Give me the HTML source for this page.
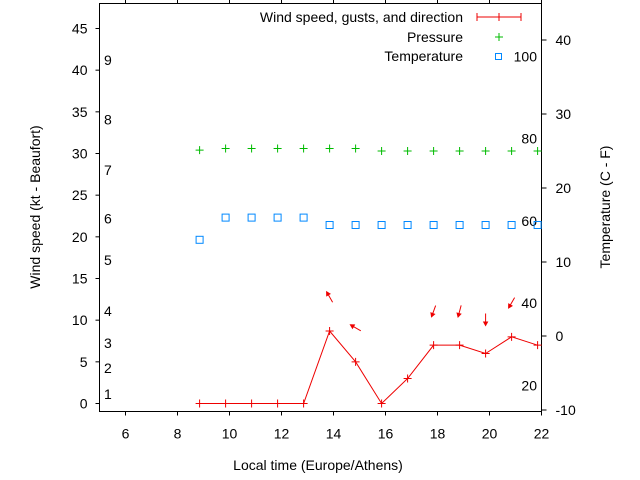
<!DOCTYPE html>
<html><head><meta charset="utf-8"><style>
body{margin:0;background:#fff}
svg{display:block;font-family:"Liberation Sans",sans-serif}
</style></head><body>
<svg id="c" width="640" height="480" viewBox="0 0 640 480"></svg>
<script>
const hours=[8.85,9.85,10.85,11.85,12.85,13.85,14.85,15.85,16.85,17.85,18.85,19.85,20.85,21.85];
const wind=[0,0,0,0,0,8.7,5,0,3,7,7,6,8,7];
const pressure=[30.4,30.6,30.6,30.6,30.6,30.6,30.6,30.3,30.3,30.3,30.3,30.3,30.3,30.3];
const temperature=[13,16,16,16,16,15,15,15,15,15,15,15,15,15];
const arrowHours=[13.85,14.85,17.85,18.85,19.85,20.85];
const arrowDir=[150,120,20,15,0,30];
const xTicks=[6,8,10,12,14,16,18,20,22];
const yTicks=[0,5,10,15,20,25,30,35,40,45];
const y2Ticks=[-10,0,10,20,30,40];
const fahr=[20,40,60,80,100];
const beaufort=[[1,1.14],[2,4.26],[3,7.26],[4,11.1],[5,17.2],[6,22.2],[7,28.0],[8,34.1],[9,41.2]];
const L=99.5,R=541.5,T=3.5,B=411.5;
const X=v=>L+(v-5)/(22-5)*(R-L);
const Y=v=>B-(v+0.96)/48.96*(B-T);
const Y2=v=>336-v*7.4;
const svg=document.getElementById('c');
const NS='http://www.w3.org/2000/svg';
function mk(t,a,p){const e=document.createElementNS(NS,t);for(const k in a)e.setAttribute(k,a[k]);(p||svg).appendChild(e);return e;}
function txt(x,y,s,anchor,name,rot){const e=mk('text',{x:x,y:y,'font-size':14,'text-anchor':anchor||'middle',fill:'#000'});


if(rot)e.setAttribute('transform',rot);e.textContent=s;return e;}
const frame=mk('rect',{x:L,y:T,width:R-L,height:B-T,fill:'none',stroke:'#000'});


xTicks.forEach(v=>{const x=X(v);
const t=mk('path',{d:`M${x},${B}v4M${x},${T}v-4`,stroke:'#000'});


txt(x,B+27,String(v),'middle','x-tick-label');});
yTicks.forEach(v=>{const y=Y(v);
const t=mk('path',{d:`M${L},${y}h-4`,stroke:'#000'});


txt(L-6-6,y+5,String(v),'end','y-tick-label');});
y2Ticks.forEach(v=>{const y=Y2(v);
const t=mk('path',{d:`M${R},${y}h5`,stroke:'#000'});


txt(R+14,y+5,String(v),'start','y2-tick-label');});
beaufort.forEach(b=>txt(104,Y(b[1])+5,String(b[0]),'start','beaufort-label'));
fahr.forEach(f=>txt(537,Y2((f-32)*5/9)+5,String(f),'end','fahrenheit-label'));
txt(318,470,'Local time (Europe/Athens)','middle','x-axis-title');
txt(0,0,'Wind speed (kt - Beaufort)','middle','y-axis-title','translate(40,207) rotate(-90)');
txt(0,0,'Temperature (C - F)','middle','y2-axis-title','translate(610,207) rotate(-90)');
const wl=mk('polyline',{points:hours.map((h,i)=>X(h)+','+Y(wind[i])).join(' '),fill:'none',stroke:'#e00',});


hours.forEach((h,i)=>{const x=X(h),y=Y(wind[i]);
const p=mk('path',{d:`M${x-4},${y}h8M${x},${y-4}v8`,stroke:'#e00'});


const g=mk('path',{d:`M${x-4},${Y(pressure[i])}h8M${x},${Y(pressure[i])-4}v8`,stroke:'#0b0'});


const s=mk('rect',{x:x-3.5,y:Y2(temperature[i])-3.5,width:7,height:7,fill:'none',stroke:'#08f'});

});
arrowHours.forEach((h,i)=>{const i0=hours.indexOf(h);const cx=X(h),cy=Y(wind[i0])-34;
const a=arrowDir[i]*Math.PI/180;const dx=-Math.sin(a)*6,dy=Math.cos(a)*6;
const x1=cx-dx,y1=cy-dy,x2=cx+dx,y2=cy+dy;
const ang=Math.atan2(y2-y1,x2-x1);
const hx1=x2-4*Math.cos(ang-0.5),hy1=y2-4*Math.sin(ang-0.5),hx2=x2-4*Math.cos(ang+0.5),hy2=y2-4*Math.sin(ang+0.5);
const ar=mk('path',{d:`M${x1},${y1}L${x2},${y2}M${hx1},${hy1}L${x2},${y2}L${hx2},${hy2}Z`,stroke:'#e00',fill:'#e00'});

});
txt(463,22,'Wind speed, gusts, and direction','end','legend-wind-label');
const lw=mk('path',{d:'M477,17h44M477,13v8M499,13v8M521,13v8',stroke:'#e00'});


txt(463,42,'Pressure','end','legend-pressure-label');
const lp=mk('path',{d:'M495,37h8M499,33v8',stroke:'#0b0'});


txt(463,61,'Temperature','end','legend-temperature-label');
const lt=mk('rect',{x:495.5,y:53.5,width:6,height:6,fill:'none',stroke:'#08f'});


</script>
</body></html>
